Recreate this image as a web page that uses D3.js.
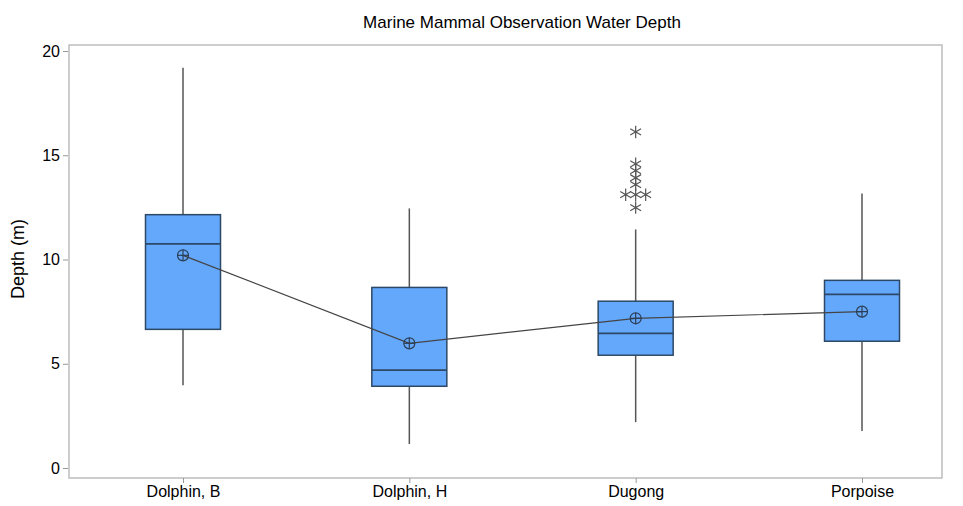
<!DOCTYPE html>
<html><head><meta charset="utf-8">
<script src="https://cdn.jsdelivr.net/npm/d3@7"></script>
<style>body{margin:0;background:#fff}text{font-family:"Liberation Sans",Arial,sans-serif}</style>
</head><body><div id="chart"></div>
<script>
var categories = ["Dolphin, B", "Dolphin, H", "Dugong", "Porpoise"];
var whiskerLow = [3.97, 1.15, 2.2, 1.77];
var q1 = [6.65, 3.92, 5.41, 6.08];
var median = [10.75, 4.69, 6.46, 8.33];
var q3 = [12.15, 8.66, 8.0, 9.0];
var whiskerHigh = [19.2, 12.45, 11.44, 13.16];
var means = [10.2, 5.98, 7.18, 7.5];
// outliers: [category index, value, horizontal jitter slot]
var outliers = [[2,16.12,0],[2,14.59,0],[2,14.26,0],[2,13.92,0],[2,13.59,0],[2,13.11,-1],[2,13.11,0],[2,13.11,1],[2,12.49,0]];

var W = 963, H = 506;
var margin = {top: 45, right: 21, bottom: 28, left: 69};
var svg = d3.select("#chart").append("svg").attr("width", W).attr("height", H);

var x = d3.scalePoint().domain(categories).range([183, 862]);
var y = d3.scaleLinear().domain([0, 20]).range([468, 51]);

svg.append("text").attr("x", 522).attr("y", 28).attr("text-anchor", "middle")
   .style("font-size", "17px").text("Marine Mammal Observation Water Depth");

svg.append("rect").attr("x", margin.left).attr("y", margin.top)
   .attr("width", W - margin.right - margin.left).attr("height", 478 - margin.top)
   .attr("fill", "none").attr("stroke", "#bdbdbd").attr("stroke-width", 1.5);

var yAxis = svg.append("g").attr("transform", "translate(" + (margin.left - 1) + ",0)")
   .call(d3.axisLeft(y).tickValues([0,5,10,15,20]).tickSize(5).tickPadding(3));
var xAxis = svg.append("g").attr("transform", "translate(0,478)")
   .call(d3.axisBottom(x).tickSize(5).tickPadding(3));
[yAxis, xAxis].forEach(function(a){
  a.select(".domain").remove();
  a.selectAll("line").attr("stroke", "#999");
  a.selectAll("text").style("font-size", "16px").attr("fill", "#000");
});

svg.append("text").attr("transform", "rotate(-90)").attr("x", -259).attr("y", 24)
   .attr("text-anchor", "middle").style("font-size", "18px").text("Depth (m)");

var cx = function(i){ return x(categories[i]); };
var bw = 75;

categories.forEach(function(c, i){
  var g = svg.append("g");
  g.append("line").attr("x1", cx(i)).attr("x2", cx(i)).attr("y1", y(whiskerLow[i])).attr("y2", y(whiskerHigh[i]))
   .attr("stroke", "#555").attr("stroke-width", 1.5);
  g.append("rect").attr("x", cx(i) - bw/2).attr("width", bw).attr("y", y(q3[i])).attr("height", y(q1[i]) - y(q3[i]))
   .attr("fill", "#64a8fc").attr("stroke", "#2c4866").attr("stroke-width", 1.5);
  g.append("line").attr("x1", cx(i) - bw/2).attr("x2", cx(i) + bw/2).attr("y1", y(median[i])).attr("y2", y(median[i]))
   .attr("stroke", "#2c4866").attr("stroke-width", 1.8);
});

svg.append("path").datum(means).attr("fill", "none").attr("stroke", "#444").attr("stroke-width", 1.2)
   .attr("d", d3.line().x(function(d, i){ return cx(i); }).y(function(d){ return y(d); }));

means.forEach(function(m, i){
  var g = svg.append("g").attr("transform", "translate(" + cx(i) + "," + y(m) + ")").attr("stroke", "#2c3e55").attr("stroke-width", 1.2);
  g.append("circle").attr("r", 5.5).attr("fill", "none");
  g.append("line").attr("x1", -5.5).attr("x2", 5.5);
  g.append("line").attr("y1", -5.5).attr("y2", 5.5);
});

var star = d3.symbol().type(d3.symbolAsterisk).size(110);
outliers.forEach(function(o){
  svg.append("path").attr("d", star())
     .attr("transform", "translate(" + (cx(o[0]) + o[2] * 10) + "," + y(o[1]) + ")")
     .attr("fill", "none").attr("stroke", "#555").attr("stroke-width", 1.2);
});
</script></body></html>
